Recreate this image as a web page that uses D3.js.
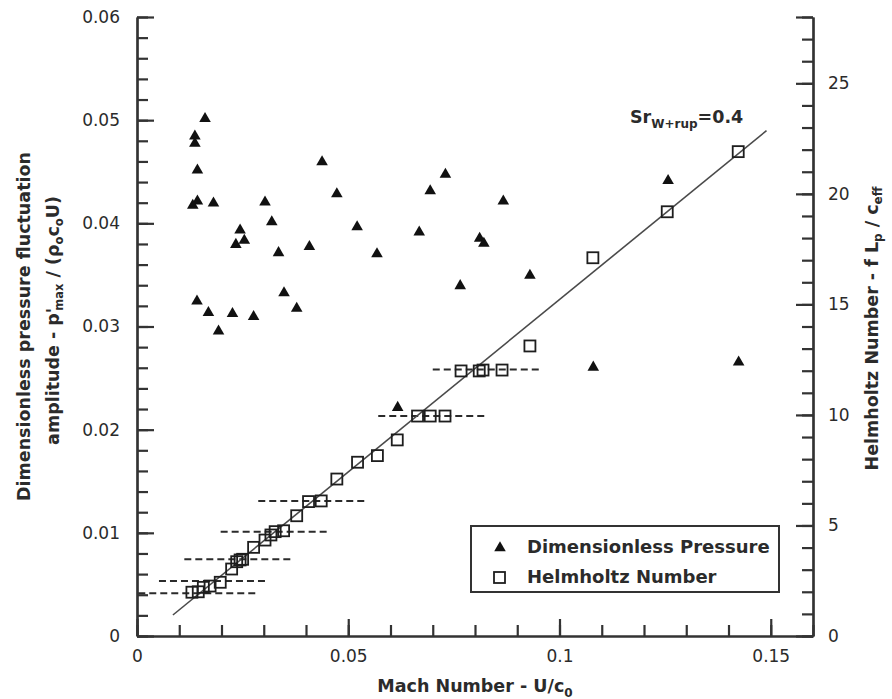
<!DOCTYPE html>
<html lang="en">
<head>
  <meta charset="UTF-8">
  <title>Pressure amplitude and Helmholtz number vs Mach number</title>
  <script src="https://cdn.jsdelivr.net/npm/d3@7"></script>
  <style>
    body { margin: 0; background: #fff; }
    text { font-family: "DejaVu Sans", sans-serif; fill: #2b2b2b; }
  </style>
</head>
<body>
<div id="chart"></div>
<script>

// Dimensionless pressure (triangles, left axis)
var pressMach = [0.0161, 0.0137, 0.0137, 0.0143, 0.0143, 0.0132, 0.0181, 0.0303, 0.0319, 0.0244,
                 0.0234, 0.0254, 0.0335, 0.0408, 0.0438, 0.0473, 0.0521, 0.0568, 0.0668, 0.0694,
                 0.0730, 0.0142, 0.0169, 0.0193, 0.0226, 0.0276, 0.0348, 0.0378, 0.0867, 0.0811,
                 0.0821, 0.0930, 0.0765, 0.1257, 0.1080, 0.1424, 0.0617];
var pressAmp  = [0.0503, 0.0486, 0.0479, 0.0453, 0.0423, 0.0419, 0.0421, 0.0422, 0.0403, 0.0395,
                 0.0381, 0.0385, 0.0373, 0.0379, 0.0461, 0.0430, 0.0398, 0.0372, 0.0393, 0.0433,
                 0.0449, 0.0326, 0.0315, 0.0297, 0.0314, 0.0311, 0.0334, 0.0319, 0.0423, 0.0387,
                 0.0382, 0.0351, 0.0341, 0.0443, 0.0262, 0.0267, 0.0223];

// Helmholtz number (squares, right axis)
var helmMach = [0.0130, 0.0145, 0.0157, 0.0173, 0.0197, 0.0224, 0.0236, 0.0244, 0.0250, 0.0276,
                0.0303, 0.0317, 0.0327, 0.0347, 0.0378, 0.0406, 0.0436, 0.0473, 0.0522, 0.0569,
                0.0616, 0.0664, 0.0694, 0.0729, 0.0767, 0.0810, 0.0819, 0.0864, 0.0930, 0.1079,
                0.1255, 0.1423];
var helmNum  = [1.98, 2.00, 2.20, 2.26, 2.43, 3.03, 3.36, 3.44, 3.47, 4.01,
                4.34, 4.57, 4.72, 4.76, 5.44, 6.08, 6.11, 7.10, 7.86, 8.16,
                8.87, 9.95, 9.95, 9.95, 11.99, 11.99, 12.03, 12.03, 13.12, 17.11,
                19.19, 21.91];

// dashed ranges (Helmholtz level, Mach from, Mach to)
var rangeHelm = [1.93, 2.49, 3.47, 4.72, 6.11, 9.95, 12.06];
var rangeFrom = [0.0003, 0.0052, 0.0112, 0.0198, 0.0287, 0.0571, 0.0700];
var rangeTo   = [0.0284, 0.0307, 0.0365, 0.0450, 0.0540, 0.0829, 0.0951];

// Sr = 0.4 line
var fitMach = [0.0085, 0.149];
var fitHelm = [0.95, 22.86];

var xTicks = [0, 0.05, 0.1, 0.15];
var xTickLabels = ["0", "0.05", "0.1", "0.15"];
var leftTicks = [0, 0.01, 0.02, 0.03, 0.04, 0.05, 0.06];
var leftTickLabels = ["0", "0.01", "0.02", "0.03", "0.04", "0.05", "0.06"];
var rightTicks = [0, 5, 10, 15, 20, 25, 28];
var rightTickLabels = ["0", "5", "10", "15", "20", "25", ""];

var W = 892, H = 699;
var margin = {top: 17, right: 79, bottom: 63, left: 137};
var axisColor = "#333";

var svg = d3.select("#chart").append("svg")
    .attr("width", W)
    .attr("height", H);

var xScale = d3.scaleLinear().domain([0, 0.16]).range([margin.left, W - margin.right]);
var yLeft = d3.scaleLinear().domain([0, 0.06]).range([H - margin.bottom, margin.top]);
var yRight = d3.scaleLinear().domain([0, 28]).range([H - margin.bottom, margin.top]);

function styleAxis(g) {
    g.attr("font-family", "DejaVu Sans, sans-serif")
     .attr("font-size", 17)
     .attr("color", axisColor);
    g.selectAll("line").attr("stroke-width", 2.2);
    g.selectAll("path").attr("stroke-width", 2.2);
    g.selectAll("text").attr("fill", "#2b2b2b");
}

// minor ticks
svg.append("g")
    .attr("transform", "translate(" + xScale(0) + ",0)")
    .call(d3.axisLeft(yLeft).tickValues(d3.range(0, 0.0601, 0.002)).tickSizeInner(-11).tickSizeOuter(0).tickFormat(""))
    .call(styleAxis);
svg.append("g")
    .attr("transform", "translate(" + xScale(0.16) + ",0)")
    .call(d3.axisRight(yRight).tickValues(d3.range(0, 28.01, 1)).tickSizeInner(-11).tickSizeOuter(0).tickFormat(""))
    .call(styleAxis);
svg.append("g")
    .attr("transform", "translate(0," + yLeft(0) + ")")
    .call(d3.axisBottom(xScale).tickValues(d3.range(0, 0.1601, 0.01)).tickSizeInner(-11).tickSizeOuter(0).tickFormat(""))
    .call(styleAxis);

// major ticks + labels
svg.append("g")
    .attr("transform", "translate(" + xScale(0) + ",0)")
    .call(d3.axisLeft(yLeft).tickValues(leftTicks).tickSizeInner(-17).tickSizeOuter(0).tickPadding(17)
        .tickFormat(function(d, i) { return leftTickLabels[i]; }))
    .call(styleAxis);
svg.append("g")
    .attr("transform", "translate(" + xScale(0.16) + ",0)")
    .call(d3.axisRight(yRight).tickValues(rightTicks).tickSizeInner(-17).tickSizeOuter(0).tickPadding(15)
        .tickFormat(function(d, i) { return rightTickLabels[i]; }))
    .call(styleAxis);
svg.append("g")
    .attr("transform", "translate(0," + yLeft(0) + ")")
    .call(d3.axisBottom(xScale).tickValues(xTicks).tickSizeInner(-17).tickSizeOuter(0).tickPadding(14)
        .tickFormat(function(d, i) { return xTickLabels[i]; }))
    .call(styleAxis);

// dashed Mach ranges
svg.append("g").selectAll("line")
    .data(rangeHelm)
    .enter().append("line")
    .attr("x1", function(d, i) { return xScale(rangeFrom[i]); })
    .attr("x2", function(d, i) { return xScale(rangeTo[i]); })
    .attr("y1", function(d) { return yRight(d); })
    .attr("y2", function(d) { return yRight(d); })
    .attr("stroke", "#2b2b2b")
    .attr("stroke-width", 2)
    .attr("stroke-dasharray", "7,4");

// Sr line
svg.append("path")
    .datum(fitMach)
    .attr("d", d3.line()
        .x(function(d) { return xScale(d); })
        .y(function(d, i) { return yRight(fitHelm[i]); }))
    .attr("fill", "none")
    .attr("stroke", "#4a4a4a")
    .attr("stroke-width", 1.6);

// squares
svg.append("g").selectAll("rect")
    .data(helmMach)
    .enter().append("rect")
    .attr("x", function(d) { return xScale(d) - 5.5; })
    .attr("y", function(d, i) { return yRight(helmNum[i]) - 5.5; })
    .attr("width", 11)
    .attr("height", 11)
    .attr("fill", "none")
    .attr("stroke", "#1e1e1e")
    .attr("stroke-width", 1.8);

// triangles
var tri = d3.symbol().type(d3.symbolTriangle).size(58);
svg.append("g").selectAll("path")
    .data(pressMach)
    .enter().append("path")
    .attr("d", tri)
    .attr("transform", function(d, i) {
        return "translate(" + xScale(d) + "," + (yLeft(pressAmp[i]) + 1.6) + ")";
    })
    .attr("fill", "#111");

// annotation
var ann = svg.append("text")
    .attr("x", 630)
    .attr("y", 123)
    .attr("font-weight", "bold")
    .attr("font-size", 17.5);
ann.append("tspan").text("Sr");
ann.append("tspan").attr("font-size", 12).attr("dy", 5).text("W+rup");
ann.append("tspan").attr("dy", -5).text("=0.4");

// x title
var xt = svg.append("text")
    .attr("x", (xScale(0) + xScale(0.16)) / 2)
    .attr("y", 692)
    .attr("text-anchor", "middle")
    .attr("font-weight", "bold")
    .attr("font-size", 17.5);
xt.append("tspan").text("Mach Number - U/c");
xt.append("tspan").attr("font-size", 12).attr("dy", 5).text("0");

// left title
var midY = (yLeft(0) + yLeft(0.06)) / 2;
svg.append("text")
    .attr("transform", "translate(29.5," + midY + ") rotate(-90)")
    .attr("text-anchor", "middle")
    .attr("font-weight", "bold")
    .attr("font-size", 17.5)
    .text("Dimensionless pressure fluctuation");

var lt = svg.append("text")
    .attr("transform", "translate(58.5," + (midY - 6) + ") rotate(-90)")
    .attr("text-anchor", "middle")
    .attr("font-weight", "bold")
    .attr("font-size", 17.5);
lt.append("tspan").text("amplitude - p'");
lt.append("tspan").attr("font-size", 11.5).attr("dy", 4).attr("dx", -3).text("max");
lt.append("tspan").attr("dy", -4).text(" / (\u03c1");
lt.append("tspan").attr("font-size", 11.5).attr("dy", 4).text("o");
lt.append("tspan").attr("dy", -4).text("c");
lt.append("tspan").attr("font-size", 11.5).attr("dy", 4).text("o");
lt.append("tspan").attr("dy", -4).text("U)");

// right title
var rt = svg.append("text")
    .attr("transform", "translate(878," + (midY + 2) + ") rotate(-90)")
    .attr("text-anchor", "middle")
    .attr("font-weight", "bold")
    .attr("font-size", 17.5);
rt.append("tspan").text("Helmholtz Number - f L");
rt.append("tspan").attr("font-size", 12).attr("dy", 4).text("p");
rt.append("tspan").attr("dy", -4).text(" / c");
rt.append("tspan").attr("font-size", 12).attr("dy", 4).text("eff");

// legend
var legend = svg.append("g").attr("transform", "translate(471,526)");
legend.append("rect")
    .attr("width", 308)
    .attr("height", 66)
    .attr("fill", "#fff")
    .attr("stroke", "#333")
    .attr("stroke-width", 2);
legend.append("path")
    .attr("d", tri)
    .attr("transform", "translate(29,22)")
    .attr("fill", "#111");
legend.append("rect")
    .attr("x", 23)
    .attr("y", 46)
    .attr("width", 11)
    .attr("height", 11)
    .attr("fill", "none")
    .attr("stroke", "#1e1e1e")
    .attr("stroke-width", 1.8);
legend.append("text")
    .attr("x", 56).attr("y", 27)
    .attr("font-weight", "bold").attr("font-size", 18)
    .text("Dimensionless Pressure");
legend.append("text")
    .attr("x", 56).attr("y", 57)
    .attr("font-weight", "bold").attr("font-size", 18)
    .text("Helmholtz Number");

</script>
</body>
</html>
